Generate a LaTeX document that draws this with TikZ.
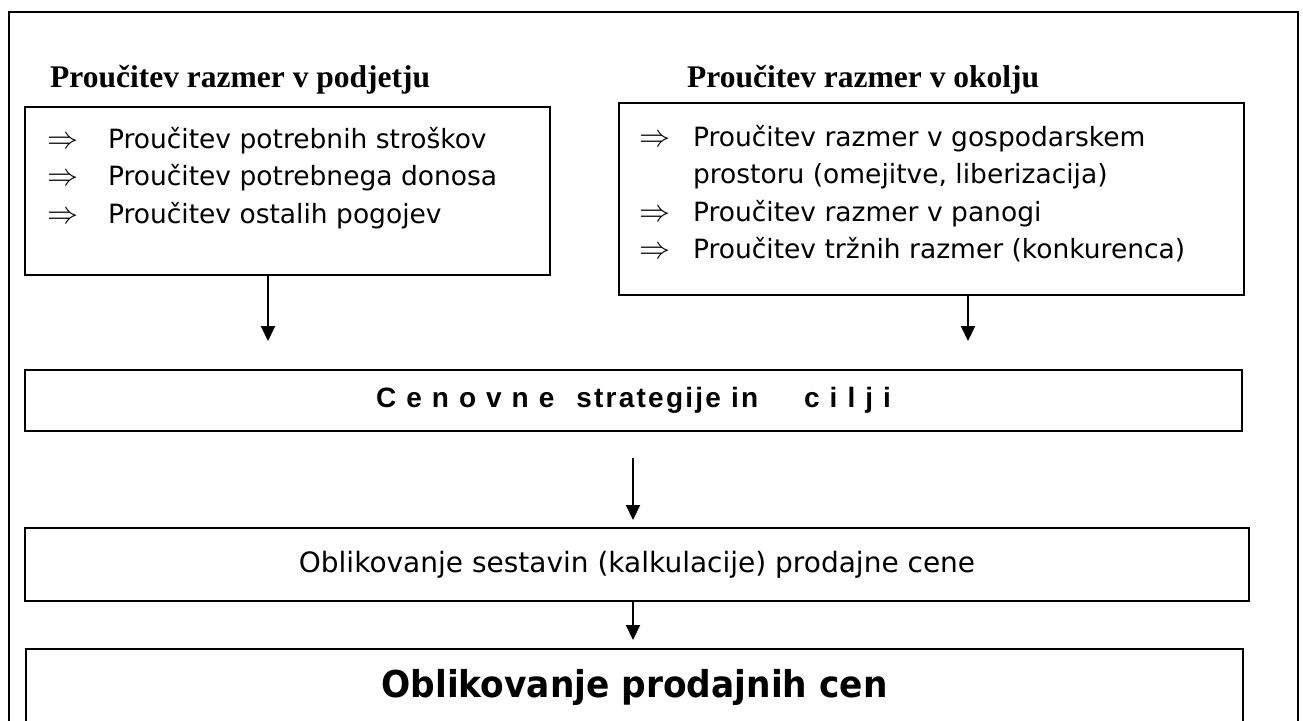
\documentclass[tikz,border=0pt]{standalone}
\usepackage{graphicx}
\usepackage{fontspec}
\setmainfont{Liberation Serif}
\newfontfamily\tahoma{DejaVu Sans}
\newfontfamily\widesans[FakeStretch=0.93]{DejaVu Sans}
\newfontfamily\spaced[LetterSpace=8]{Liberation Sans}
\usetikzlibrary{positioning, arrows.meta}

% arrow mark in front of a list entry
\newcommand{\pnt}[2][60pt]{\makebox[#1][l]{\scalebox{1.25}{$\Rightarrow$}}#2}

\begin{document}
\begin{tikzpicture}[x=1pt, y=-1pt, >={Triangle[length=15pt, width=14pt]},
  box/.style={draw, line width=2pt, inner sep=0pt},
  head/.style={anchor=base west, inner sep=0pt, font=\bfseries\fontsize{31.5}{36}\selectfont},
  list/.style={font=\tahoma\fontsize{26.5}{37.5}\selectfont}]
  \useasboundingbox (0,0) rectangle (1303,720);
  \draw[line width=2pt] (8.5,730) |- (1298,12) -- (1298,730);

  \node[head] (th1) at (50,87) {Proučitev razmer v podjetju};
  \node[head] (th2) at (687,87) {Proučitev razmer v okolju};

  \node[box, list, anchor=north west] (podj) at (24,106) {\parbox[t][168pt][t]{525pt}{%
    \rule{0pt}{41pt}\hspace*{22pt}\pnt[61pt]{Proučitev potrebnih stroškov}\\
    \hspace*{22pt}\pnt[61pt]{Proučitev potrebnega donosa}\\
    \hspace*{22pt}\pnt[61pt]{Proučitev ostalih pogojev}}};
  \node[box, list, anchor=north west] (okol) at (618,102) {\parbox[t][192pt][t]{625pt}{%
    \rule{0pt}{43pt}\hspace*{20pt}\pnt[54pt]{Proučitev razmer v gospodarskem}\\
    \hspace*{74pt}prostoru (omejitve, liberizacija)\\
    \hspace*{20pt}\pnt[54pt]{Proučitev razmer v panogi}\\
    \hspace*{20pt}\pnt[54pt]{Proučitev tržnih razmer (konkurenca)}}};

  \node[box, minimum width=1217pt, minimum height=61pt,
    font=\spaced\bfseries\fontsize{28}{32}\selectfont] (strat) at (633.5,400.5)
    {\spaceskip=10pt C e n o v n e\hspace{22pt}{\spaceskip=0pt strategije in}\hspace{46pt}c i l j i};
  \node[box, minimum width=1224pt, minimum height=73pt,
    font=\tahoma\fontsize{28}{32}\selectfont] (kalk) at (637,564.5)
    {Oblikovanje sestavin (kalkulacije) prodajne cene};
  \node[box, anchor=north west, minimum width=1217pt, text height=48pt, text depth=60pt,
    font=\widesans\bfseries\fontsize{37}{40}\selectfont] (cene) at (25,648)
    {Oblikovanje prodajnih cen};

  \coordinate (a1) at (268,341);
  \coordinate (a2) at (968,341);
  \coordinate (a3) at (633,520);
  \coordinate (a4) at (633,640);
  \draw[->, line width=2pt] (a1 |- podj.south) -- (a1);
  \draw[->, line width=2pt] (a2 |- okol.south) -- (a2);
  \draw[->, line width=2pt, shorten <=26pt] (a3 |- strat.south) -- (a3);
  \draw[->, line width=2pt] (a4 |- kalk.south) -- (a4);
\end{tikzpicture}
\end{document}
